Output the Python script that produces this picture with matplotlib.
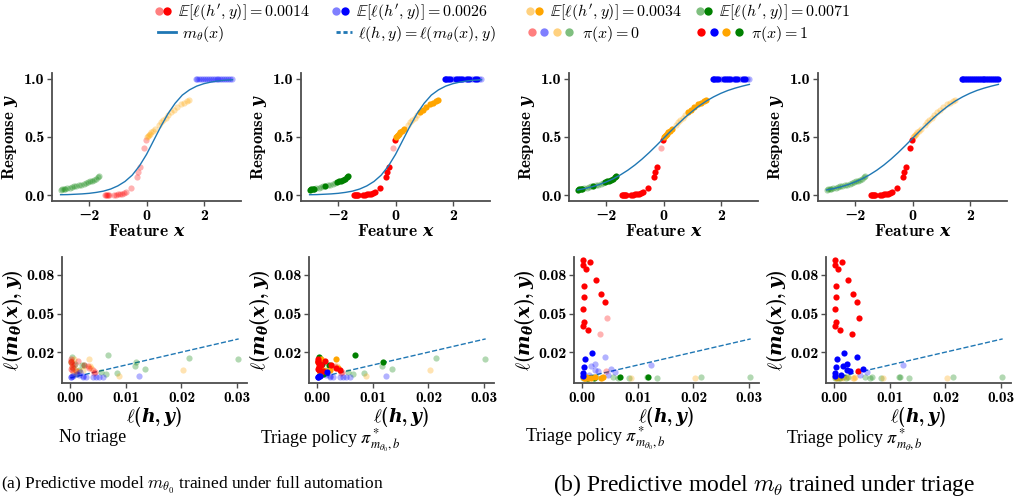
import matplotlib
matplotlib.use('Agg')
import matplotlib.pyplot as plt
from matplotlib.lines import Line2D
from matplotlib.legend_handler import HandlerTuple
from matplotlib.font_manager import FontProperties

plt.rcParams['mathtext.fontset'] = 'custom'
plt.rcParams['mathtext.rm'] = 'cmb10'
plt.rcParams['mathtext.bf'] = 'cmb10'
plt.rcParams['mathtext.it'] = 'DejaVu Serif:italic:bold'
plt.rcParams['font.family'] = ['cmb10', 'DejaVu Serif']
plt.rcParams['axes.formatter.use_mathtext'] = False

# ---- top row data: feature x / response y, per group ----
green_x = [-3.00, -2.95, -2.89, -2.83, -2.76, -2.68, -2.60, -2.52, -2.45, -2.36,
           -2.28, -2.20, -2.13, -2.06, -1.98, -1.91, -1.84, -1.77, -1.71, -1.65]
green_y = [0.048, 0.051, 0.054, 0.057, 0.061, 0.065, 0.070, 0.075, 0.079, 0.085,
           0.091, 0.097, 0.103, 0.110, 0.118, 0.126, 0.134, 0.143, 0.152, 0.162]
green_pi_b = [1, 1, 1, 1, 0, 0, 0, 0, 1, 0, 0, 0, 0, 1, 1, 1, 1, 1, 1, 1]
green_pi_c = [0] * 20

red_x = [-1.46, -1.42, -1.38, -1.34, -1.30, -1.12, -1.05, -0.98, -0.91,
         -0.85, -0.78, -0.71, -0.55, -0.33, -0.28, -0.23, -0.08, -0.03]
red_y = [0.000, 0.000, 0.000, 0.001, 0.001, 0.002, 0.004, 0.006, 0.009,
         0.014, 0.020, 0.028, 0.065, 0.160, 0.200, 0.245, 0.405, 0.470]
red_pi_b = [1] * 16 + [0, 1]
red_pi_c = [1] * 18

orange_x = [0.00, 0.04, 0.08, 0.12, 0.17, 0.22, 0.28, 0.42, 0.50, 0.58,
            0.67, 0.76, 0.87, 0.96, 1.05, 1.20, 1.30, 1.40, 1.50]
orange_y = [0.500, 0.510, 0.520, 0.530, 0.543, 0.555, 0.570, 0.605, 0.625, 0.645,
            0.665, 0.690, 0.715, 0.735, 0.755, 0.780, 0.795, 0.808, 0.820]
orange_pi_b = [1, 1, 1, 1, 1, 1, 1, 0, 0, 0, 0, 0, 1, 1, 1, 1, 1, 1, 1]
orange_pi_c = [0] * 19

blue_x = [1.72, 1.78, 1.84, 1.91, 1.98, 2.06, 2.13, 2.19, 2.25, 2.31,
          2.38, 2.45, 2.51, 2.57, 2.63, 2.70, 2.77, 2.84, 2.91, 2.98]
blue_y = [1.0] * 20
blue_pi_b = [1, 1, 1, 1, 0, 0, 1, 1, 1, 1, 0, 0, 1, 1, 0, 0, 1, 1, 0, 0]
blue_pi_c = [1] * 20

# model curves
curve_x = [-3.0, -2.75, -2.5, -2.25, -2.0, -1.75, -1.5, -1.25, -1.0, -0.75, -0.5, -0.25, 0.0,
           0.25, 0.5, 0.75, 1.0, 1.25, 1.5, 1.75, 2.0, 2.25, 2.5, 2.75, 3.0]
m0_curve = [0.004, 0.005, 0.008, 0.011, 0.016, 0.024, 0.035, 0.053, 0.080, 0.118, 0.172, 0.250, 0.350,
            0.470, 0.590, 0.700, 0.790, 0.860, 0.905, 0.937, 0.958, 0.972, 0.982, 0.988, 0.992]
m_curve = [0.045, 0.057, 0.072, 0.091, 0.114, 0.142, 0.175, 0.214, 0.259, 0.310, 0.366, 0.426, 0.488,
           0.550, 0.610, 0.668, 0.720, 0.768, 0.810, 0.845, 0.875, 0.900, 0.920, 0.937, 0.952]

# ---- bottom row data: human loss vs model loss ----
g_hloss = [0.0001, 0.0003, 0.0005, 0.0008, 0.0010, 0.0015, 0.0021, 0.0024, 0.0056,
           0.0065, 0.0067, 0.0084, 0.0117, 0.0118, 0.0135, 0.0213, 0.0301]
g_loss0 = [0.0120, 0.0166, 0.0075, 0.0110, 0.0028, 0.0060, 0.0102, 0.0103, 0.0045,
           0.0033, 0.0174, 0.0038, 0.0090, 0.0127, 0.0066, 0.0154, 0.0144]
g_loss = [0.0002, 0.0003, 0.0001, 0.0002, 0.0001, 0.0003, 0.0002, 0.0004, 0.0003,
          0.0002, 0.0005, 0.0002, 0.0003, 0.0004, 0.0002, 0.0003, 0.0004]
g_bpi_b = [0, 1, 0, 1, 1, 0, 1, 0, 0, 0, 1, 0, 0, 1, 0, 0, 0]
g_bpi_c = [0] * 17

r_hloss = [0.0002, 0.0001, 0.0014, 0.0006, 0.0025, 0.0003, 0.0033, 0.0003,
           0.0040, 0.0002, 0.0003, 0.0002, 0.0010, 0.0044, 0.0032, 0.0043]
r_loss0 = [0.0130, 0.0150, 0.0135, 0.0097, 0.0097, 0.0110, 0.0077, 0.0085,
           0.0059, 0.0070, 0.0060, 0.0120, 0.0050, 0.0045, 0.0090, 0.0040]
r_loss = [0.0915, 0.0877, 0.0903, 0.0844, 0.0762, 0.0718, 0.0654, 0.0631,
          0.0587, 0.0533, 0.0433, 0.0403, 0.0369, 0.0469, 0.0338, 0.0056]
r_bpi_b = [1] * 13 + [0, 0, 0]
r_bpi_c = [1] * 16

o_hloss = [0.0001, 0.0003, 0.0006, 0.0010, 0.0015, 0.0023, 0.0033, 0.0036, 0.0038, 0.0088, 0.0202, 0.0005]
o_loss0 = [0.0120, 0.0085, 0.0150, 0.0060, 0.0050, 0.0064, 0.0143, 0.0092, 0.0077, 0.0012, 0.0064, 0.0035]
o_loss = [0.0003, 0.0002, 0.0004, 0.0001, 0.0002, 0.0003, 0.0001, 0.0002, 0.0003, 0.0002, 0.0001, 0.0002]
o_bpi_b = [1, 1, 1, 1, 1, 1, 1, 0, 1, 0, 0, 1]
o_bpi_c = [0] * 12

b_hloss = [0.0001, 0.0002, 0.0003, 0.0005, 0.0017, 0.0041, 0.0023, 0.0015,
           0.0023, 0.0029, 0.0051, 0.0058, 0.0124, 0.0047, 0.0012]
b_loss0 = [0.0008, 0.0010, 0.0012, 0.0015, 0.0046, 0.0010, 0.0012, 0.0020,
           0.0009, 0.0008, 0.0007, 0.0008, 0.0015, 0.0009, 0.0030]
b_loss = [0.0018, 0.0038, 0.0082, 0.0146, 0.0192, 0.0162, 0.0110, 0.0092,
          0.0064, 0.0050, 0.0069, 0.0044, 0.0100, 0.0023, 0.0023]
b_bpi_b = [1, 1, 1, 1, 1, 0, 0, 0, 0, 0, 0, 0, 0, 0, 0]
b_bpi_c = [1, 1, 1, 1, 1, 1, 1, 1, 1, 1, 1, 0, 0, 0, 1]

diag_x = [0.0, 0.0303]

exp_losses = ['0.0014', '0.0026', '0.0034', '0.0071']
colors = ['red', 'blue', 'orange', 'green']
LIGHT = 0.3

top_groups = [
    ('green', green_x, green_y, green_pi_b, green_pi_c),
    ('red', red_x, red_y, red_pi_b, red_pi_c),
    ('orange', orange_x, orange_y, orange_pi_b, orange_pi_c),
    ('blue', blue_x, blue_y, blue_pi_b, blue_pi_c),
]
bottom_groups = [
    ('green', g_hloss, g_loss0, g_loss, g_bpi_b, g_bpi_c),
    ('orange', o_hloss, o_loss0, o_loss, o_bpi_b, o_bpi_c),
    ('red', r_hloss, r_loss0, r_loss, r_bpi_b, r_bpi_c),
    ('blue', b_hloss, b_loss0, b_loss, b_bpi_b, b_bpi_c),
]

fig = plt.figure(figsize=(10.15, 5.0), dpi=100)

top_left = [52, 301, 569, 818]
bot_left = [62, 309, 574, 826]
W = 185


def style(ax, tick_size):
    for s in ['top', 'right']:
        ax.spines[s].set_visible(False)
    for s in ['left', 'bottom']:
        ax.spines[s].set_color('0.3')
        ax.spines[s].set_linewidth(1.3)
    ax.tick_params(direction='out', length=3.5, width=1, color='0.3', labelsize=tick_size, pad=2)


def scatter_flags(ax, col, xs, ys, flags):
    lx = [x for x, f in zip(xs, flags) if not f]
    ly = [y for y, f in zip(ys, flags) if not f]
    sx = [x for x, f in zip(xs, flags) if f]
    sy = [y for y, f in zip(ys, flags) if f]
    ax.scatter(lx, ly, s=20, color=col, alpha=LIGHT, linewidths=0, zorder=2)
    ax.scatter(sx, sy, s=20, color=col, linewidths=0, zorder=3)


# top row: 0 = no triage, 1/2 = policy for m_theta0, 3 = policy for m_theta
for i in range(4):
    ax = fig.add_axes([top_left[i] / 1015, 0.598, 189 / 1015, 0.256])
    style(ax, 11.5)
    curve = m0_curve if i < 2 else m_curve
    ax.plot(curve_x, curve, color='#1f77b4', lw=1.0, zorder=4)
    for col, xs, ys, pb, pc in top_groups:
        if i == 0:
            flags = [0] * len(xs)
        elif i in (1, 2):
            flags = pb
        else:
            flags = pc
        scatter_flags(ax, col, xs, ys, flags)
    ax.set_xlim(-3.3, 3.3)
    ax.set_ylim(-0.05, 1.05)
    ax.set_xticks([-2, 0, 2])
    ax.set_yticks([0.0, 0.5, 1.0])
    ax.set_xlabel('Feature $x$', fontsize=12.5, labelpad=0)
    ax.set_ylabel('Response $y$', fontsize=12, labelpad=3)

# bottom row
for i in range(4):
    ax = fig.add_axes([bot_left[i] / 1015, 0.234, W / 1015, 0.252])
    style(ax, 11)
    ax.plot(diag_x, diag_x, color='#1f77b4', lw=1.0, ls='--', zorder=1)
    for col, hl, l0, l1, pb, pc in bottom_groups:
        ys = l0 if i < 2 else l1
        if i == 0:
            flags = [0] * len(hl)
        elif i in (1, 2):
            flags = pb
        else:
            flags = pc
        scatter_flags(ax, col, hl, ys, flags)
    ax.set_xlim(-0.0015, 0.0318)
    ax.set_ylim(-0.004, 0.094)
    ax.set_xticks([0.0, 0.01, 0.02, 0.03])
    ax.set_xticklabels(['0.00', '0.01', '0.02', '0.03'])
    ax.set_yticks([0.02, 0.05, 0.08])
    ax.set_yticklabels(['0.02', '0.05', '0.08'], fontsize=11.5)
    ax.set_xlabel(r'$\ell(h, y)$', fontsize=13.5, labelpad=0)
    ax.set_ylabel(r'$\ell(m_\theta(x), y)$', fontsize=14, labelpad=1)

# legend, laid out entry by entry like the original
leg_font = FontProperties(family='DejaVu Serif', size=11.5, math_fontfamily='cm')


def dot(col, a):
    return Line2D([], [], ls='', marker='o', markersize=6, color=col, alpha=a, markeredgewidth=0)


def add_entry(handle, label, x, y, hl):
    fig.legend([handle], [label], loc='center left', bbox_to_anchor=(x, y),
               frameon=False, handlelength=hl, handletextpad=0.4, borderpad=0,
               borderaxespad=0, prop=leg_font,
               handler_map={tuple: HandlerTuple(ndivide=None, pad=0.0)})


row1_x = [0.152, 0.327, 0.518, 0.685]
for j in range(4):
    add_entry((dot(colors[j], 0.5), dot(colors[j], 1.0)),
              r'$\mathbb{E}[\ell(h^{\prime}, y)] = ' + exp_losses[j] + '$',
              row1_x[j], 0.975, 1.1)
add_entry(Line2D([], [], color='#1f77b4', lw=2), r'$m_\theta(x)$', 0.156, 0.933, 1.1)
add_entry(Line2D([], [], color='#1f77b4', lw=2, ls=(0, (1.5, 1))),
          r'$\ell(h, y) = \ell(m_\theta(x), y)$', 0.331, 0.933, 1.0)
add_entry(tuple(dot(c, 0.5) for c in colors), r'$\pi(x) = 0$', 0.518, 0.933, 3.1)
add_entry(tuple(dot(c, 1.0) for c in colors), r'$\pi(x) = 1$', 0.685, 0.933, 3.1)

# captions
cap = dict(family='Liberation Serif', va='center')
fig.text(93 / 1015, 1 - 437 / 500, 'No triage', fontsize=13, ha='center', **cap)
fig.text(330 / 1015, 1 - 440 / 500, r'Triage policy $\pi^*_{m_{\theta_0}, b}$', fontsize=13,
         math_fontfamily='stix', ha='center', **cap)
fig.text(595 / 1015, 1 - 438 / 500, r'Triage policy $\pi^*_{m_{\theta_0}, b}$', fontsize=13,
         math_fontfamily='stix', ha='center', **cap)
fig.text(854 / 1015, 1 - 440 / 500, r'Triage policy $\pi^*_{m_\theta, b}$', fontsize=13,
         math_fontfamily='stix', ha='center', **cap)
fig.text(1 / 1015, 1 - 485 / 500, r'(a) Predictive model $m_{\theta_0}$ trained under full automation',
         fontsize=12.5, math_fontfamily='cm', ha='left', **cap)
fig.text(553 / 1015, 1 - 485 / 500, r'(b) Predictive model $m_\theta$ trained under triage',
         fontsize=17, math_fontfamily='cm', ha='left', **cap)

fig.savefig('out.png', dpi=100)
